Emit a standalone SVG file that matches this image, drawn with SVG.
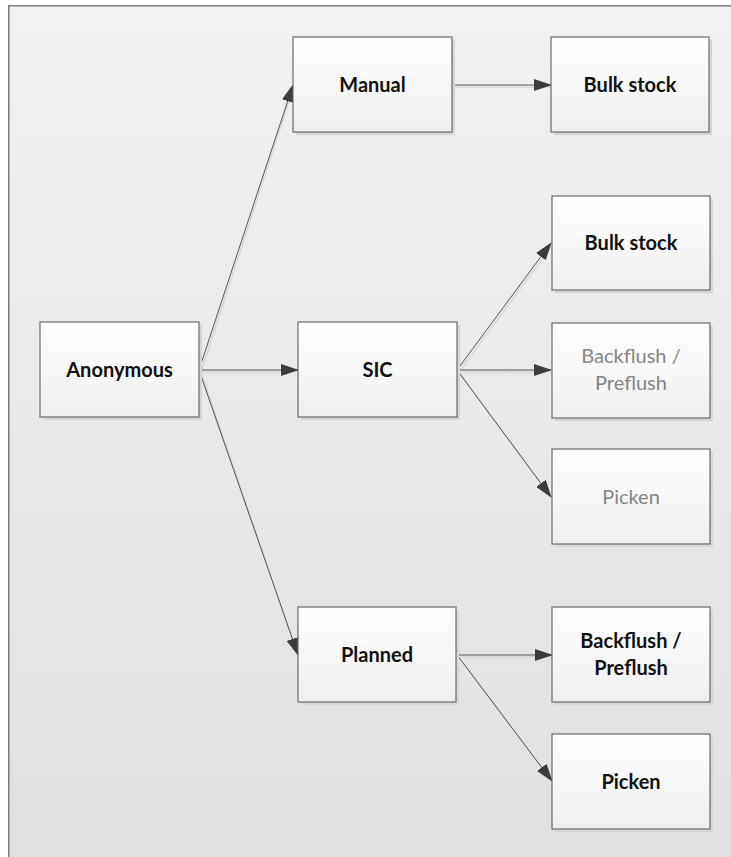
<svg xmlns="http://www.w3.org/2000/svg" width="731" height="857" viewBox="0 0 731 857">
  <defs>
    <linearGradient id="bg" x1="0" y1="0" x2="0" y2="1">
      <stop offset="0" stop-color="#f1f1f1"/>
      <stop offset="1" stop-color="#e1e1e1"/>
    </linearGradient>
    <linearGradient id="boxFill" x1="0" y1="0" x2="0" y2="1">
      <stop offset="0" stop-color="#ffffff"/>
      <stop offset="1" stop-color="#efefef"/>
    </linearGradient>
    <marker id="arrow" viewBox="0 0 18 12" refX="17" refY="6" markerWidth="18" markerHeight="12" markerUnits="userSpaceOnUse" orient="auto">
      <path d="M0,0 L18,6 L0,12 Z" fill="#3c3c3c"/>
    </marker>
  </defs>
  <style>
    .box { fill: url(#boxFill); stroke: #6a6a6a; stroke-width: 1.2; }
    .shadow { fill: #d6d6d6; }
    .lbl { font-family: Lato, "Open Sans", "Liberation Sans", sans-serif; font-size: 20px; font-weight: bold; fill: #111111; text-anchor: middle; }
    .lbl.dim { font-weight: normal; fill: #858585; }
    .edge { stroke: #555555; stroke-width: 1; fill: none; marker-end: url(#arrow); }
    .edge-shadow { stroke: #d2d2d2; stroke-width: 1.2; fill: none; }
  </style>

  <!-- canvas -->
  <rect x="8" y="5" width="723" height="852" fill="url(#bg)"/>
  <path d="M8.75,857 V5.75 H731" fill="none" stroke="#7c7c7c" stroke-width="1.5"/>

  <!-- connectors -->
  <g id="connectors">
    <g transform="translate(2,2)">
      <line class="edge-shadow" x1="199" y1="370" x2="291" y2="87"/>
      <line class="edge-shadow" x1="199" y1="370" x2="296" y2="370"/>
      <line class="edge-shadow" x1="199" y1="370" x2="296" y2="653"/>
      <line class="edge-shadow" x1="452" y1="85" x2="549" y2="85"/>
      <line class="edge-shadow" x1="457" y1="370" x2="549" y2="245"/>
      <line class="edge-shadow" x1="457" y1="370" x2="549" y2="370"/>
      <line class="edge-shadow" x1="457" y1="370" x2="549" y2="495"/>
      <line class="edge-shadow" x1="457" y1="655" x2="550" y2="655"/>
      <line class="edge-shadow" x1="457" y1="655" x2="550" y2="779"/>
    </g>
    <line class="edge" x1="199" y1="370" x2="293" y2="85"/>
    <line class="edge" x1="199" y1="370" x2="298" y2="370"/>
    <line class="edge" x1="199" y1="370" x2="298" y2="655"/>
    <line class="edge" x1="452" y1="85" x2="551" y2="85"/>
    <line class="edge" x1="457" y1="370" x2="551" y2="243"/>
    <line class="edge" x1="457" y1="370" x2="551" y2="370"/>
    <line class="edge" x1="457" y1="370" x2="551" y2="497"/>
    <line class="edge" x1="457" y1="655" x2="552" y2="655"/>
    <line class="edge" x1="457" y1="655" x2="552" y2="781"/>
  </g>

  <!-- nodes -->
  <g id="anonymous">
    <rect class="shadow" x="43" y="325" width="159" height="95"/>
    <rect class="box" x="40" y="322" width="159" height="95"/>
    <text class="lbl" x="119.5" y="377">Anonymous</text>
  </g>
  <g id="manual">
    <rect class="shadow" x="296" y="40" width="159" height="95"/>
    <rect class="box" x="293" y="37" width="159" height="95"/>
    <text class="lbl" x="372.5" y="92">Manual</text>
  </g>
  <g id="manual-bulk-stock">
    <rect class="shadow" x="554" y="40" width="158" height="95"/>
    <rect class="box" x="551" y="37" width="158" height="95"/>
    <text class="lbl" x="630" y="92">Bulk stock</text>
  </g>
  <g id="sic">
    <rect class="shadow" x="301" y="325" width="159" height="95"/>
    <rect class="box" x="298" y="322" width="159" height="95"/>
    <text class="lbl" x="377.5" y="377">SIC</text>
  </g>
  <g id="sic-bulk-stock">
    <rect class="shadow" x="555" y="199" width="158" height="94"/>
    <rect class="box" x="552" y="196" width="158" height="94"/>
    <text class="lbl" x="631" y="250">Bulk stock</text>
  </g>
  <g id="sic-backflush">
    <rect class="shadow" x="555" y="326" width="158" height="95"/>
    <rect class="box" x="552" y="323" width="158" height="95"/>
    <text class="lbl dim" x="631" y="363">Backflush /</text>
    <text class="lbl dim" x="631" y="390">Preflush</text>
  </g>
  <g id="sic-picken">
    <rect class="shadow" x="555" y="452" width="158" height="95"/>
    <rect class="box" x="552" y="449" width="158" height="95"/>
    <text class="lbl dim" x="631" y="504">Picken</text>
  </g>
  <g id="planned">
    <rect class="shadow" x="301" y="610" width="158" height="95"/>
    <rect class="box" x="298" y="607" width="158" height="95"/>
    <text class="lbl" x="377" y="662">Planned</text>
  </g>
  <g id="planned-backflush">
    <rect class="shadow" x="555" y="610" width="158" height="95"/>
    <rect class="box" x="552" y="607" width="158" height="95"/>
    <text class="lbl" x="631" y="648">Backflush /</text>
    <text class="lbl" x="631" y="675">Preflush</text>
  </g>
  <g id="planned-picken">
    <rect class="shadow" x="555" y="737" width="158" height="95"/>
    <rect class="box" x="552" y="734" width="158" height="95"/>
    <text class="lbl" x="631" y="789">Picken</text>
  </g>
</svg>
